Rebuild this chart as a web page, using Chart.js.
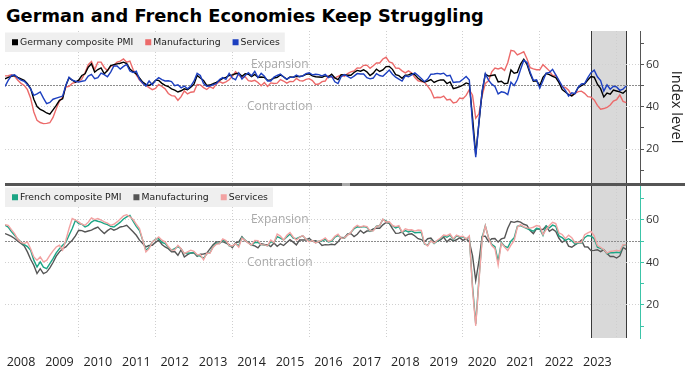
<!DOCTYPE html>
<html>
<head>
<meta charset="utf-8">
<script src="https://cdn.jsdelivr.net/npm/chart.js@4.4.1/dist/chart.umd.min.js"></script>
<style>
  body { margin: 0; background: #fff; width: 700px; height: 369px; overflow: hidden; position: relative; }
  #title { position: absolute; left: 6px; top: 5px; line-height: 20px; font: bold 17.8px "DejaVu Sans", sans-serif; color: #000; white-space: nowrap; }
  canvas { position: absolute; left: 0; }
  #c1 { top: 31px; }
  #c2 { top: 186px; }
  #sep { position: absolute; left: 5px; top: 183px; width: 680px; height: 3px; background: #555; }
  #grip { position: absolute; left: 342px; top: 183px; width: 8px; height: 3px; background: #aaa; }
</style>
</head>
<body>
<div id="title">German and French Economies Keep Struggling</div>
<canvas id="c1" width="690" height="152"></canvas>
<div id="sep"></div><div id="grip"></div>
<canvas id="c2" width="690" height="183"></canvas>
<script>
// monthly PMI readings, Jan 2008 .. Mar 2024
const years = ['2008','2009','2010','2011','2012','2013','2014','2015','2016','2017','2018','2019','2020','2021','2022','2023'];

const deComposite = [
  53.1, 53.8, 54.3, 54.7, 53.8, 53.1, 52.4, 50.8, 48.5, 43.5, 40.0, 38.7,
  38.0, 37.0, 36.4, 38.5, 40.6, 43.0, 43.7, 50.0, 53.6, 52.5, 51.6, 52.5,
  54.7, 55.5, 58.6, 60.2, 56.3, 57.5, 58.3, 55.5, 57.0, 59.4, 59.8, 60.2,
  60.5, 61.0, 60.3, 57.8, 56.5, 55.5, 53.5, 51.6, 50.5, 50.0, 50.8, 52.4,
  52.4, 51.0, 50.0, 49.5, 48.4, 47.8, 46.9, 47.5, 48.4, 48.0, 49.2, 50.5,
  54.7, 53.5, 52.4, 50.0, 50.2, 50.8, 51.5, 52.4, 53.3, 53.8, 54.7, 55.0,
  55.5, 55.8, 54.3, 55.5, 55.3, 54.2, 55.2, 53.9, 54.0, 53.8, 52.4, 52.6,
  53.5, 53.8, 55.0, 54.1, 52.9, 54.0, 53.9, 54.3, 54.2, 54.5, 55.2, 55.5,
  54.5, 54.1, 54.0, 53.9, 54.5, 54.1, 55.3, 53.6, 52.8, 55.1, 55.0, 54.8,
  54.8, 56.1, 57.1, 56.7, 57.4, 56.4, 54.7, 55.8, 57.7, 56.6, 57.3, 58.9,
  59.0, 57.6, 55.1, 54.6, 53.4, 54.8, 55.0, 55.6, 55.0, 53.4, 52.3, 51.6,
  52.1, 52.8, 51.4, 52.2, 52.6, 52.6, 50.9, 51.7, 48.5, 48.9, 49.4, 50.2,
  51.2, 50.7, 35.0, 17.4, 32.3, 47.0, 55.3, 54.4, 54.7, 55.0, 51.7, 52.0,
  50.8, 51.1, 57.3, 55.8, 56.2, 60.1, 62.4, 60.0, 55.5, 52.0, 52.2, 49.9,
  53.8, 55.6, 55.1, 54.3, 53.7, 51.3, 48.1, 46.9, 45.7, 45.1, 46.3, 49.0,
  49.9, 50.7, 52.6, 54.2, 53.9, 50.6, 48.5, 44.6, 46.4, 45.9, 47.8, 47.4,
  47.0, 46.3, 47.7
];
const deManufacturing = [
  54.5, 54.6, 55.0, 54.3, 52.5, 51.0, 50.0, 48.0, 44.0, 37.5, 33.5, 32.5,
  32.0, 32.1, 32.4, 34.9, 39.0, 42.5, 44.5, 49.2, 49.6, 51.0, 51.5, 52.0,
  53.0, 56.0, 59.8, 61.3, 57.5, 61.0, 61.0, 58.5, 57.0, 59.0, 59.5, 61.0,
  61.5, 62.5, 61.0, 61.5, 57.5, 55.0, 52.5, 51.0, 50.0, 49.0, 48.0, 48.6,
  50.5, 49.5, 48.4, 46.2, 45.2, 45.0, 43.0, 44.7, 47.4, 46.0, 46.8, 47.0,
  50.5, 50.3, 49.0, 48.1, 49.4, 48.6, 50.7, 51.8, 51.1, 51.7, 52.7, 54.3,
  56.5, 54.8, 53.7, 54.1, 52.3, 52.0, 52.4, 51.4, 49.9, 51.4, 49.5, 51.2,
  50.9, 51.1, 52.8, 52.1, 51.1, 51.9, 51.8, 53.3, 52.3, 52.1, 52.9, 53.2,
  52.3, 50.5, 50.7, 51.8, 52.1, 54.5, 53.8, 53.6, 54.3, 55.0, 54.3, 55.6,
  56.4, 56.8, 58.3, 58.2, 59.5, 59.6, 58.1, 59.3, 60.6, 60.6, 62.5, 63.3,
  61.1, 60.6, 58.2, 58.1, 56.9, 55.9, 56.9, 55.9, 53.7, 52.2, 51.8, 51.5,
  49.7, 47.6, 44.1, 44.4, 44.3, 45.0, 43.2, 43.5, 41.7, 42.1, 44.1, 43.7,
  45.3, 48.0, 45.4, 34.5, 36.6, 45.2, 51.0, 52.2, 56.4, 58.2, 57.8, 58.3,
  57.1, 60.7, 66.6, 66.2, 64.4, 65.1, 65.9, 62.6, 58.4, 57.8, 57.4, 57.4,
  59.8, 58.4, 56.9, 54.6, 54.8, 52.0, 49.3, 49.1, 47.8, 45.1, 46.2, 47.1,
  47.3, 46.3, 44.7, 44.5, 43.2, 40.6, 38.8, 39.1, 39.6, 40.8, 42.6, 43.3,
  45.5, 42.5, 41.9
];
const deServices = [
  49.5, 52.4, 54.7, 55.0, 53.5, 52.5, 52.0, 50.5, 48.4, 45.3, 46.0, 46.9,
  44.0, 41.4, 42.0, 43.5, 44.0, 44.5, 45.0, 50.0, 53.9, 52.5, 52.0, 51.6,
  52.0, 52.3, 54.4, 55.2, 53.2, 53.7, 55.8, 55.1, 54.1, 56.3, 59.2, 59.2,
  57.7, 59.0, 59.9, 56.8, 56.1, 56.7, 52.9, 51.1, 49.7, 52.1, 50.3, 52.4,
  53.7, 52.8, 52.1, 52.2, 51.8, 49.9, 50.3, 48.9, 49.7, 48.4, 49.7, 52.0,
  55.7, 54.7, 50.9, 49.6, 49.7, 50.4, 50.8, 52.8, 53.7, 52.9, 55.7, 53.5,
  52.7, 55.9, 53.0, 54.7, 56.0, 54.6, 56.7, 53.7, 55.7, 54.4, 52.1, 52.1,
  54.0, 54.7, 55.4, 54.0, 53.0, 53.8, 53.8, 54.9, 54.1, 54.5, 55.6, 56.0,
  55.0, 55.3, 55.1, 54.5, 55.2, 53.7, 54.4, 51.7, 50.9, 54.2, 55.1, 54.3,
  53.4, 54.4, 55.6, 55.4, 55.4, 53.7, 53.1, 53.5, 55.6, 54.7, 54.3, 55.8,
  57.3, 55.3, 53.9, 53.0, 52.1, 54.5, 54.1, 55.0, 55.9, 54.7, 53.3, 51.8,
  53.0, 55.3, 55.4, 55.7, 55.4, 55.8, 54.5, 54.8, 51.4, 51.6, 51.7, 52.9,
  54.2, 52.5, 31.7, 16.2, 32.6, 47.3, 55.6, 52.5, 50.6, 49.5, 46.0, 47.0,
  46.7, 45.7, 51.5, 49.9, 52.8, 57.5, 61.8, 60.8, 56.2, 52.4, 52.7, 48.7,
  52.2, 55.8, 56.1, 57.6, 55.0, 52.4, 49.7, 47.7, 45.0, 46.5, 46.1, 49.2,
  50.7, 50.9, 53.7, 56.0, 57.2, 54.1, 52.3, 47.3, 50.3, 48.2, 49.6, 49.3,
  47.7, 48.3, 49.8
];
const frComposite = [
  57.5, 56.7, 54.5, 52.8, 51.0, 49.6, 48.4, 47.5, 45.8, 41.1, 37.9, 40.3,
  37.8, 37.1, 39.5, 41.8, 44.5, 46.5, 48.1, 49.5, 52.8, 56.0, 59.9, 58.3,
  58.0, 56.7, 57.5, 59.0, 59.9, 59.4, 59.0, 58.3, 57.8, 57.0, 56.7, 57.8,
  59.0, 60.5, 61.5, 62.2, 59.5, 57.0, 55.0, 50.5, 45.8, 47.0, 49.7, 51.0,
  51.3, 49.5, 48.9, 47.2, 45.8, 46.5, 47.5, 46.5, 44.1, 44.5, 44.4, 44.8,
  43.4, 43.0, 41.9, 44.1, 44.6, 47.4, 49.1, 48.9, 50.5, 50.0, 47.8, 47.6,
  48.9, 47.9, 51.8, 50.6, 49.3, 48.1, 49.4, 49.5, 48.4, 48.2, 47.9, 49.7,
  49.4, 52.2, 51.5, 50.6, 52.0, 53.4, 51.5, 51.2, 51.9, 52.6, 51.0, 50.1,
  50.3, 49.3, 50.0, 50.2, 50.9, 49.7, 50.1, 51.9, 52.7, 51.6, 51.4, 53.1,
  54.1, 55.9, 56.8, 56.6, 56.9, 56.6, 54.6, 55.1, 57.1, 57.4, 60.3, 59.6,
  58.6, 57.3, 56.3, 56.9, 54.2, 55.0, 54.4, 54.9, 54.0, 54.1, 54.2, 48.7,
  48.2, 50.4, 48.9, 50.1, 51.2, 52.7, 51.9, 52.9, 50.8, 52.6, 52.1, 52.0,
  51.1, 52.0, 28.9, 11.1, 32.1, 51.7, 57.3, 51.6, 48.5, 47.5, 40.6, 49.5,
  47.7, 47.0, 50.0, 51.6, 57.0, 57.4, 56.6, 55.9, 55.3, 54.7, 56.1, 55.8,
  52.7, 57.2, 56.3, 57.6, 57.0, 52.5, 51.7, 50.4, 51.2, 50.2, 48.7, 49.1,
  49.1, 51.7, 52.7, 52.4, 51.2, 47.2, 46.6, 46.0, 44.1, 44.6, 44.6, 44.8,
  44.6, 48.1, 48.3
];
const frManufacturing = [
  53.6, 53.0, 52.3, 51.3, 50.0, 49.0, 47.8, 45.0, 41.5, 38.7, 34.8, 37.1,
  34.8, 35.5, 37.5, 40.0, 43.0, 45.0, 46.5, 47.3, 49.0, 50.5, 52.5, 55.2,
  55.0, 54.4, 54.8, 55.2, 56.0, 56.7, 55.0, 53.6, 55.0, 56.0, 55.2, 55.8,
  56.7, 57.0, 57.5, 56.0, 54.5, 52.8, 50.5, 48.9, 47.3, 48.0, 48.1, 49.5,
  50.5, 48.5, 47.3, 46.5, 45.0, 45.2, 43.4, 46.0, 42.6, 43.7, 44.5, 44.6,
  42.9, 43.9, 44.0, 44.4, 46.4, 48.4, 49.7, 49.7, 49.8, 49.1, 48.4, 47.0,
  49.3, 49.7, 52.1, 50.0, 49.6, 48.2, 47.8, 46.9, 48.8, 48.5, 48.4, 47.5,
  49.2, 47.6, 48.8, 48.0, 49.4, 50.7, 49.6, 48.3, 50.6, 50.6, 50.6, 51.4,
  50.0, 50.2, 49.6, 48.0, 48.4, 48.3, 48.6, 48.3, 49.7, 51.8, 51.7, 53.5,
  53.6, 52.2, 53.3, 55.1, 53.8, 54.8, 54.9, 55.8, 56.1, 56.1, 57.7, 58.8,
  58.4, 55.9, 53.7, 53.8, 54.4, 52.5, 53.3, 53.5, 52.5, 51.2, 50.8, 49.7,
  51.2, 51.5, 49.7, 50.0, 50.6, 52.0, 49.7, 51.1, 50.1, 50.7, 51.7, 50.4,
  51.1, 49.8, 43.2, 31.5, 40.6, 52.3, 52.4, 49.8, 51.2, 51.3, 49.6, 51.1,
  51.6, 56.1, 59.3, 58.9, 59.4, 59.0, 58.0, 57.5, 55.0, 53.6, 55.9, 55.6,
  55.5, 57.2, 54.7, 55.7, 54.6, 51.4, 49.5, 50.6, 47.7, 47.2, 48.3, 49.2,
  50.5, 47.4, 47.3, 45.6, 45.7, 46.0, 45.1, 46.0, 44.2, 42.8, 42.9, 42.1,
  43.1, 47.1, 46.2
];
const frServices = [
  57.8, 57.5, 55.5, 53.6, 50.9, 49.5, 48.9, 49.7, 46.5, 42.6, 41.1, 42.6,
  40.3, 41.0, 43.4, 45.5, 47.3, 48.1, 45.8, 50.5, 56.0, 60.7, 60.0, 59.1,
  58.0, 57.5, 59.0, 61.0, 60.2, 60.7, 60.0, 59.1, 58.5, 57.5, 58.0, 59.1,
  60.5, 61.9, 62.5, 61.5, 60.2, 58.0, 56.0, 50.5, 45.0, 46.5, 49.7, 50.8,
  52.0, 50.5, 49.7, 47.5, 45.8, 45.8, 48.1, 46.5, 44.2, 45.0, 45.8, 45.2,
  43.6, 43.7, 41.3, 44.4, 44.3, 47.2, 48.6, 48.9, 51.1, 50.3, 48.0, 47.8,
  48.9, 47.2, 51.5, 50.4, 49.1, 48.2, 50.4, 50.3, 48.4, 48.3, 47.9, 50.6,
  49.4, 53.4, 52.4, 50.6, 52.8, 54.1, 52.0, 50.6, 51.9, 52.7, 51.0, 49.8,
  50.3, 49.2, 49.9, 50.6, 51.6, 49.9, 50.5, 52.3, 53.3, 51.4, 51.6, 52.9,
  54.1, 56.4, 57.5, 56.7, 57.2, 56.9, 54.9, 54.9, 57.0, 57.3, 60.4, 59.1,
  59.2, 57.4, 56.9, 57.4, 54.3, 55.9, 55.3, 55.4, 54.8, 55.3, 55.1, 49.0,
  47.8, 50.2, 49.1, 50.5, 51.5, 52.9, 52.6, 53.4, 51.1, 52.9, 52.2, 52.4,
  51.0, 52.5, 27.4, 10.2, 31.1, 50.7, 57.3, 51.5, 48.0, 46.5, 38.8, 49.1,
  47.3, 45.6, 48.2, 50.3, 56.6, 57.8, 56.8, 56.3, 56.2, 56.6, 57.4, 57.0,
  53.1, 55.5, 57.4, 58.9, 58.3, 53.9, 53.2, 51.2, 52.9, 51.7, 49.3, 49.5,
  49.4, 53.1, 53.9, 54.6, 52.5, 48.0, 47.1, 46.0, 44.4, 45.2, 45.4, 45.7,
  45.4, 48.4, 48.3
];

// x is months since Jan 2008; each reading sits at its month end
const toPoints = arr => arr.map((v, i) => ({ x: i + 1, y: v }));
const X_MIN = 1, X_MAX = 199.3;
const SHADE = [184, 195];
const gridMonths = [24, 48, 72, 96, 120, 144, 168, 192];

Chart.defaults.font.family = '"Open Sans", sans-serif';

const panelDecor = {
  id: 'panelDecor',
  beforeDraw(chart) {
    const { ctx, chartArea: a, scales: { x } } = chart;
    const x0 = x.getPixelForValue(SHADE[0]), x1 = x.getPixelForValue(SHADE[1]);
    ctx.save();
    ctx.fillStyle = '#d9d9d9';
    ctx.fillRect(x0, a.top, x1 - x0, a.bottom - a.top);
    ctx.strokeStyle = '#3a3a3a';
    ctx.lineWidth = 1;
    ctx.beginPath();
    [x0, x1].forEach(px => {
      const p = Math.round(px) + 0.5;
      ctx.moveTo(p, a.top);
      ctx.lineTo(p, a.bottom);
    });
    ctx.stroke();
    ctx.restore();
  },
  beforeDatasetsDraw(chart) {
    const { ctx, scales: { x, y } } = chart;
    const cx = x.getPixelForValue(86.8);
    ctx.save();
    ctx.font = '12px "Open Sans"';
    ctx.fillStyle = '#a9a9a9';
    ctx.textAlign = 'center';
    ctx.textBaseline = 'middle';
    ctx.fillText('Expansion', cx, y.getPixelForValue(60));
    ctx.fillText('Contraction', cx, y.getPixelForValue(40));
    ctx.restore();
  },
  afterDatasetsDraw(chart) {
    // legend strip inside the plot, top left
    const { ctx, chartArea: a } = chart;
    const top = a.top + 1.5, h = 19.5;
    ctx.save();
    ctx.font = '9.3px "DejaVu Sans"';
    let xpos = a.left + 7;
    const items = chart.data.datasets.map(ds => {
      const it = { x: xpos, ds };
      xpos += 8 + ctx.measureText(ds.label).width + 12;
      return it;
    });
    const right = xpos - 12 + 5;
    ctx.fillStyle = '#efefef';
    ctx.fillRect(a.left, top, right - a.left, h);
    ctx.textBaseline = 'middle';
    items.forEach(it => {
      ctx.fillStyle = it.ds.borderColor;
      ctx.fillRect(it.x, top + h / 2 - 3, 6, 6);
      ctx.fillStyle = '#222';
      ctx.fillText(it.ds.label, it.x + 8, top + h / 2 + 0.5);
    });
    ctx.restore();
  }
};

function yAxis(lo, hi, axisColor, withTitle) {
  return {
    position: 'right', min: lo, max: hi,
    ticks: {
      stepSize: 10, includeBounds: false, padding: 2, color: '#333',
      font: { size: 11.5 },
      callback: v => (v % 20 === 0 ? v : '')
    },
    grid: {
      color: c => (c.tick.value === 50 ? '#8c8c8c' : (c.tick.value % 20 === 0 ? '#d0d0d0' : 'rgba(0,0,0,0)')),
      tickColor: axisColor, tickLength: 4
    },
    border: { color: axisColor, width: 1, dash: c => (c.tick && c.tick.value === 50 ? [2, 1] : [1, 2]) },
    title: { display: withTitle, text: 'Index level', color: '#222', font: { size: 14.6 }, padding: { top: 5, bottom: 5 } },
    afterFit: s => { s.width = 50; s.paddingTop = 0; s.paddingBottom = 0; }
  };
}

function panel(canvasId, sets, lo, hi, axisColor, showYears, withTitle) {
  return new Chart(document.getElementById(canvasId), {
    type: 'line',
    data: {
      datasets: sets.map(s => ({
        label: s.label, data: toPoints(s.values), xAxisID: 'x',
        borderColor: s.color, backgroundColor: s.color, borderWidth: 1.4,
        pointRadius: 0, tension: 0, order: s.order
      }))
    },
    options: {
      responsive: false, animation: false,
      layout: { padding: { left: 5, right: 0, top: 0, bottom: 0 } },
      plugins: { legend: { display: false }, tooltip: { enabled: false } },
      scales: {
        x: {
          type: 'linear', min: X_MIN, max: X_MAX, display: showYears,
          afterBuildTicks: s => { s.ticks = years.map((_, i) => ({ value: i * 12 + 6 })); },
          ticks: { autoSkip: false, maxRotation: 0, minRotation: 0, color: '#222', font: { size: 12.5 }, padding: 17,
                   callback: (v, i) => years[i] },
          grid: { display: false, drawTicks: false },
          border: { display: false },
          afterFit: s => { s.height = showYears ? 31 : 0; s.paddingLeft = 0; s.paddingRight = 0; }
        },
        xg: {
          type: 'linear', position: 'bottom', min: X_MIN, max: X_MAX,
          afterBuildTicks: s => { s.ticks = gridMonths.map(v => ({ value: v })); },
          ticks: { display: false },
          grid: { color: '#cfcfcf', drawTicks: false },
          border: { display: false, dash: [1, 2] },
          afterFit: s => { s.height = 0; s.paddingLeft = 0; s.paddingRight = 0; }
        },
        y: yAxis(lo, hi, axisColor, withTitle)
      }
    },
    plugins: [panelDecor]
  });
}

panel('c1', [
  { label: 'Germany composite PMI', values: deComposite, color: '#000000', order: 1 },
  { label: 'Manufacturing', values: deManufacturing, color: '#ec6a6a', order: 2 },
  { label: 'Services', values: deServices, color: '#1c3fc0', order: 0 }
], 3.96, 75.7, '#555555', false, true);

panel('c2', [
  { label: 'French composite PMI', values: frComposite, color: '#1ca585', order: 1 },
  { label: 'Manufacturing', values: frManufacturing, color: '#555555', order: 2 },
  { label: 'Services', values: frServices, color: '#f2a2a2', order: 0 }
], 4.47, 76, '#3cc4a8', true, false);
</script>
</body>
</html>
